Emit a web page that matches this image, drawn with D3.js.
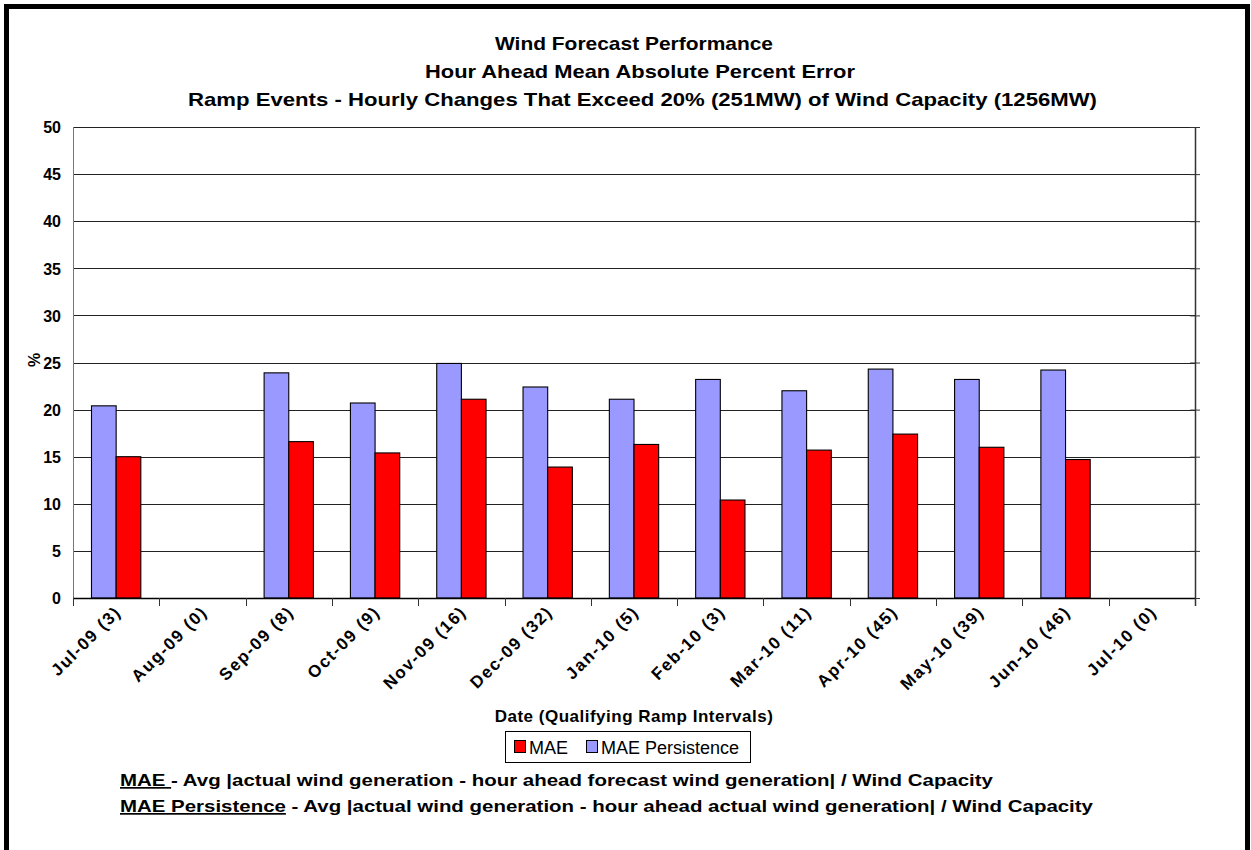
<!DOCTYPE html>
<html>
<head>
<meta charset="utf-8">
<script src="https://cdnjs.cloudflare.com/ajax/libs/d3/7.8.5/d3.min.js"></script>
<style>
  html, body { margin: 0; padding: 0; background: #fff; }
  svg { display: block; }
  text { font-family: Arial, "Liberation Sans", sans-serif; fill: #000; }
</style>
</head>
<body>
<svg id="chart" width="1251" height="850"></svg>
<script>
const titleLines = [
  "Wind Forecast Performance",
  "Hour Ahead Mean Absolute Percent Error",
  "Ramp Events - Hourly Changes That Exceed 20% (251MW) of Wind Capacity (1256MW)"
];
const categories = ["Jul-09 (3)", "Aug-09 (0)", "Sep-09 (8)", "Oct-09 (9)", "Nov-09 (16)", "Dec-09 (32)",
  "Jan-10 (5)", "Feb-10 (3)", "Mar-10 (11)", "Apr-10 (45)", "May-10 (39)", "Jun-10 (46)", "Jul-10 (0)"];
const maeValues =         [15.0, null, 16.6, 15.4, 21.1, 13.9, 16.3, 10.4, 15.7, 17.4, 16.0, 14.7, null];
const persistenceValues = [20.4, null, 23.9, 20.7, 24.9, 22.4, 21.1, 23.2, 22.0, 24.3, 23.2, 24.2, null];
const seriesNames = ["MAE Persistence", "MAE"];
const seriesColors = ["#9999FF", "#FF0000"];
const legendNames = ["MAE", "MAE Persistence"];
const yTicks = [0, 5, 10, 15, 20, 25, 30, 35, 40, 45, 50];
const xTitle = "Date (Qualifying Ramp Intervals)";
const yTitle = "%";
const notes = [
  {key: "MAE ", rest: "- Avg |actual wind generation - hour ahead forecast wind generation| / Wind Capacity"},
  {key: "MAE Persistence", rest: " - Avg |actual wind generation - hour ahead actual wind generation| / Wind Capacity"}
];

const svg = d3.select("#chart");
const L = 73, R = 1195, T = 127, B = 598;

// frame
svg.append("path").attr("d", "M6.5,850 L6.5,6.5 L1247.5,6.5 L1247.5,850")
  .attr("fill", "none").attr("stroke", "#000").attr("stroke-width", 5);

// titles
const titleX = [495, 425, 188];
const titleY = [50, 78, 106];
const titleW = [278, 430, 909];
titleLines.forEach((t, i) => {
  svg.append("text").attr("x", titleX[i]).attr("y", titleY[i])
    .attr("font-size", 19).attr("font-weight", "bold")
    .attr("textLength", titleW[i]).attr("lengthAdjust", "spacingAndGlyphs").text(t);
});

const x = d3.scaleBand().domain(categories).range([L, R]).paddingInner(0).paddingOuter(0);
const x1 = d3.scaleBand().domain(seriesNames).range([0, x.bandwidth()]).paddingInner(0).paddingOuter(0.75);
const y = d3.scaleLinear().domain([0, 50]).range([B, T]);

// gridlines
svg.append("g").selectAll("line").data(yTicks.filter(d => d > 0)).join("line")
  .attr("x1", L).attr("x2", R)
  .attr("y1", d => Math.round(y(d)) + 0.5).attr("y2", d => Math.round(y(d)) + 0.5)
  .attr("stroke", "#222").attr("stroke-width", 1);

// left axis labels
const yAxis = svg.append("g").attr("transform", `translate(${L},0)`)
  .call(d3.axisLeft(y).tickValues(yTicks).tickSize(0).tickPadding(12));
yAxis.select(".domain").remove();
yAxis.selectAll("text").attr("font-size", 16).attr("font-weight", "bold")
  .style("font-family", "Arial, 'Liberation Sans', sans-serif").attr("dy", "0.36em");
svg.append("line").attr("x1", L + 0.5).attr("x2", L + 0.5).attr("y1", T).attr("y2", B + 8)
  .attr("stroke", "#777").attr("stroke-width", 1);

// right axis with crossing ticks
const yR = svg.append("g").attr("transform", `translate(${R},0)`)
  .call(d3.axisRight(y).tickValues(yTicks).tickSize(5).tickFormat(""));
yR.select(".domain").remove();
yR.selectAll(".tick line").attr("x1", -5).attr("stroke", "#333");
svg.append("line").attr("x1", R + 0.5).attr("x2", R + 0.5).attr("y1", T).attr("y2", B + 8)
  .attr("stroke", "#333").attr("stroke-width", 1.5);

// y title
svg.append("text").attr("transform", `translate(40,360) rotate(-90)`).attr("text-anchor", "middle")
  .attr("font-size", 16).attr("font-weight", "bold").text(yTitle);

// bars
const barData = [];
categories.forEach((c, i) => {
  [persistenceValues[i], maeValues[i]].forEach((v, j) => {
    if (v != null) barData.push({c, s: seriesNames[j], v, color: seriesColors[j]});
  });
});
svg.append("g").selectAll("rect").data(barData).join("rect")
  .attr("x", d => x(d.c) + x1(d.s))
  .attr("width", x1.bandwidth())
  .attr("y", d => y(d.v))
  .attr("height", d => y(0) - y(d.v))
  .attr("fill", d => d.color)
  .attr("stroke", "#000").attr("stroke-width", 1.1);

// bottom axis line and boundary ticks
svg.append("line").attr("x1", L).attr("x2", R).attr("y1", B + 0.5).attr("y2", B + 0.5)
  .attr("stroke", "#000").attr("stroke-width", 1.5);
const bounds = categories.map(c => x(c)).concat([x.range()[1]]);
svg.append("g").selectAll("line").data(bounds).join("line")
  .attr("x1", d => Math.round(d) + 0.5).attr("x2", d => Math.round(d) + 0.5)
  .attr("y1", B).attr("y2", B + 8).attr("stroke", "#333");

// x labels
svg.append("g").selectAll("text").data(categories).join("text")
  .attr("transform", d => `translate(${x(d) + x.bandwidth() / 2 + 6},${B + 15}) rotate(-45)`)
  .attr("text-anchor", "end").attr("font-size", 17).attr("font-weight", "bold")
  .attr("letter-spacing", 1.6).text(d => d);

// x title
svg.append("text").attr("x", 634).attr("y", 722).attr("text-anchor", "middle")
  .attr("font-size", 17).attr("font-weight", "bold").attr("letter-spacing", 0.5).text(xTitle);

// legend
const lg = svg.append("g");
lg.append("rect").attr("x", 505.5).attr("y", 731.5).attr("width", 245).attr("height", 31)
  .attr("fill", "#fff").attr("stroke", "#000").attr("stroke-width", 1);
const legendX = [514, 586];
legendNames.forEach((n, i) => {
  const col = seriesColors[seriesNames.indexOf(n)];
  lg.append("rect").attr("x", legendX[i] + 0.5).attr("y", 740.5).attr("width", 11).attr("height", 12)
    .attr("fill", col).attr("stroke", "#000").attr("stroke-width", 1);
  lg.append("text").attr("x", legendX[i] + 15).attr("y", 754).attr("font-size", 18).text(n);
});

// notes
const noteY = [786, 812];
const noteW = [873, 973];
notes.forEach((n, i) => {
  const t = svg.append("text").attr("x", 120).attr("y", noteY[i]).attr("font-size", 17).attr("font-weight", "bold")
    .attr("textLength", noteW[i]).attr("lengthAdjust", "spacingAndGlyphs");
  t.append("tspan").style("text-decoration", "underline").text(n.key);
  t.append("tspan").text(n.rest);
});
</script>
</body>
</html>
